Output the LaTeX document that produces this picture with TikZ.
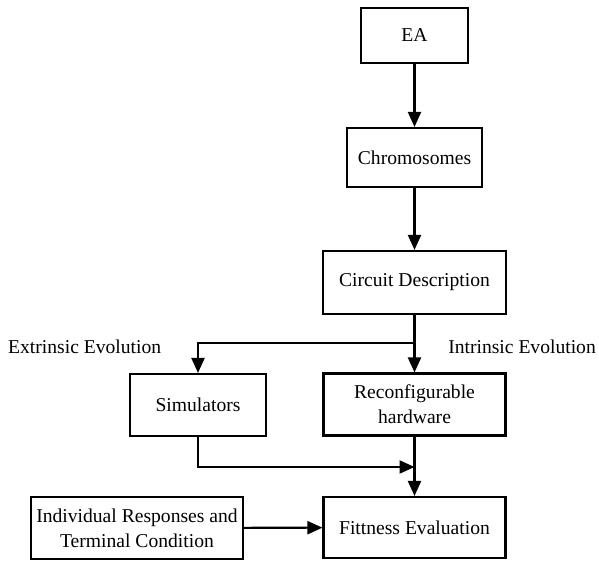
\documentclass[tikz,border=0pt]{standalone}
\usepackage{fontspec}
\setmainfont{Liberation Serif}
\usetikzlibrary{arrows.meta}
\begin{document}
\begin{tikzpicture}[x=1pt,y=-1pt,
  box/.style={draw,line width=2.1pt,inner sep=0pt,align=center,
    font=\fontsize{19.6}{25}\selectfont},
  lbl/.style={inner sep=0pt,font=\fontsize{19.6}{25}\selectfont},
  conn/.style={line width=2.1pt,-{Triangle[length=15pt,width=13pt]}}]
\useasboundingbox (0,0) rectangle (599,561);
\node[box,minimum width=107pt,minimum height=55pt] (ea) at (414.5,35.5) {EA};
\node[box,minimum width=135pt,minimum height=59pt] (chr) at (414.5,157.5) {Chromosomes};
\node[box,minimum width=183pt,minimum height=63pt] (cir) at (414.5,282.5) {Circuit Description};
\node[box,minimum width=136pt,minimum height=62pt] (sim) at (198,405) {Simulators};
\node[box,minimum width=182pt,minimum height=62pt] (rec) at (414.5,404.5) {Reconfigurable\\hardware};
\node[box,minimum width=212pt,minimum height=62pt] (ind) at (137,528) {Individual Responses and\\Terminal Condition};
\node[box,minimum width=182pt,minimum height=61pt] (fit) at (414.5,527.5) {Fittness Evaluation};
\node[lbl,anchor=west] (ext) at (8,347) {Extrinsic Evolution};
\node[lbl,anchor=east] (int) at (596,347) {Intrinsic Evolution};
\coordinate (split) at (414.5,343);
\coordinate (join) at (414.5,467);
\draw[conn] (ea) -- (chr);
\draw[conn] (chr) -- (cir);
\draw[conn] (cir) -- (rec);
\draw[conn] (split) -| (sim.north);
\draw[conn] (sim.south) |- (join);
\draw[conn] (rec) -- (fit);
\draw[conn] (ind) -- (fit);
\end{tikzpicture}
\end{document}
